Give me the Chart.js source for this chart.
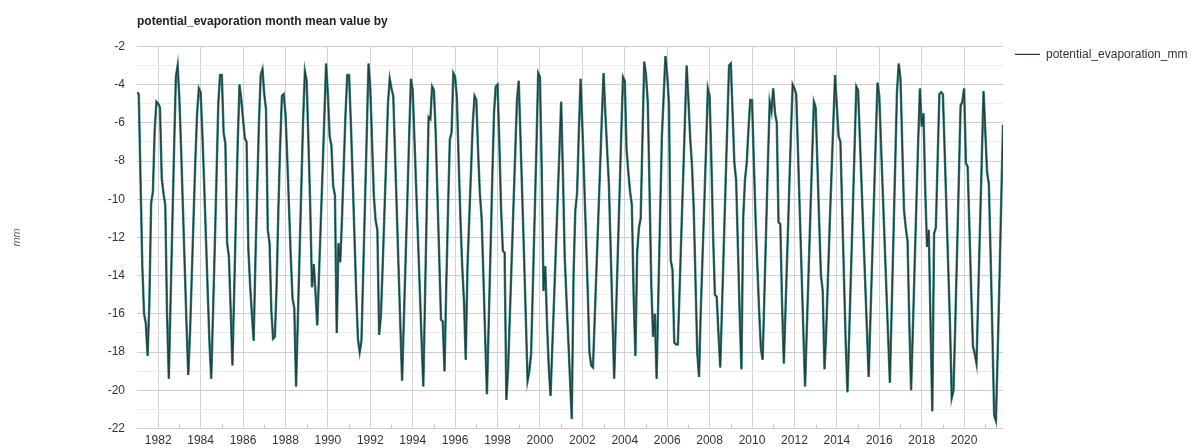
<!DOCTYPE html>
<html>
<head>
<meta charset="utf-8">
<script src="https://cdn.jsdelivr.net/npm/chart.js@4.4.1/dist/chart.umd.min.js"></script>
<style>
html,body{margin:0;padding:0;background:#ffffff;}
#wrap{width:1195px;height:448px;position:relative;}
</style>
</head>
<body>
<div id="wrap"><canvas id="chart"></canvas></div>
<script>
// ---- DATA ----
const seriesLabel = 'potential_evaporation_mm';
const chartTitle = 'potential_evaporation month mean value by';
const yAxisTitle = 'mm';
const startYear = 1981; // first value = January 1981, monthly

const pe1981to1990 = [
  -4.4, -4.5, -9.0, -13.5, -16.0, -16.5, -18.2, -15.4, -10.2, -9.6, -6.4, -4.9,
  -5.0, -5.2, -8.9, -9.7, -10.3, -16.0, -19.4, -15.3, -11.3, -7.3, -3.6, -3.0,
  -4.8, -7.5, -10.5, -13.5, -16.5, -19.2, -17.0, -14.0, -11.0, -8.0, -5.5, -4.2,
  -4.4, -6.6, -9.2, -12.0, -14.8, -17.5, -19.4, -16.0, -12.5, -8.8, -5.0, -3.5,
  -3.5, -6.5, -7.1, -12.3, -13.0, -15.8, -18.7, -14.8, -10.8, -7.0, -4.0, -4.8,
  -5.8, -6.8, -7.0, -12.6, -14.5, -16.0, -17.4, -13.2, -9.5, -6.0, -3.5, -3.2,
  -4.5, -5.3, -11.6, -12.3, -15.8, -17.3, -17.2, -14.5, -10.5, -7.2, -4.6, -4.5,
  -5.5, -7.8, -10.4, -13.0, -15.2, -15.7, -19.8, -16.3, -12.8, -9.3, -5.8, -3.3,
  -3.8, -7.0, -10.3, -14.6, -13.4, -14.9, -16.6, -13.9, -11.2, -8.5, -5.7, -2.9,
  -4.5, -6.7, -7.2, -9.3, -9.8, -17.0, -12.3, -13.3, -11.0, -8.2, -5.5, -3.5
];
const pe1991to2000 = [
  -3.5, -6.0, -8.8, -11.8, -14.8, -17.3, -18.0, -17.4, -13.8, -10.2, -6.6, -2.9,
  -4.2, -7.0, -9.8, -11.1, -11.6, -17.1, -16.1, -13.5, -10.7, -7.9, -5.0, -3.7,
  -4.2, -4.6, -7.6, -10.6, -13.6, -16.6, -19.5, -16.3, -13.1, -9.9, -6.7, -3.7,
  -4.3, -6.9, -9.5, -12.1, -14.7, -17.3, -19.8, -15.0, -10.2, -5.7, -5.8, -4.1,
  -4.3, -6.5, -9.8, -13.0, -16.3, -16.4, -19.0, -14.5, -10.5, -6.9, -6.5, -3.4,
  -3.6, -4.7, -8.0, -11.0, -13.5, -15.3, -18.4, -13.5, -11.0, -8.5, -6.0, -4.6,
  -4.8, -7.5, -9.7, -11.0, -14.0, -17.2, -20.2, -16.5, -12.8, -9.0, -5.5, -4.1,
  -4.0, -7.0, -10.5, -12.7, -12.8, -20.5, -18.8, -16.0, -13.2, -10.4, -7.6, -4.8,
  -3.8, -6.8, -9.9, -13.0, -16.2, -19.5, -19.0, -18.1, -14.5, -10.9, -7.3, -3.4,
  -3.6, -8.5, -14.8, -13.5, -16.5, -18.8, -20.3, -17.7, -15.2, -12.6, -10.0, -7.5
];
const pe2001to2010 = [
  -4.9, -8.7, -13.0, -15.2, -17.3, -19.4, -21.5, -14.0, -10.6, -9.7, -6.5, -3.7,
  -6.2, -9.0, -11.8, -14.7, -18.0, -18.7, -18.8, -16.2, -13.6, -11.0, -8.4, -5.8,
  -3.4, -5.5, -7.4, -9.2, -12.6, -16.0, -19.4, -16.2, -13.0, -9.8, -6.6, -3.6,
  -3.8, -7.4, -8.6, -9.6, -10.3, -15.0, -18.2, -12.8, -11.5, -11.0, -6.8, -2.8,
  -3.5, -4.9, -9.5, -14.5, -17.2, -16.0, -19.4, -15.0, -10.8, -6.7, -4.6, -2.5,
  -3.5, -5.0, -13.2, -13.7, -17.5, -17.6, -17.6, -14.8, -11.8, -8.9, -6.0, -3.0,
  -4.8, -6.8, -8.2, -10.5, -14.2, -18.0, -19.3, -15.8, -13.0, -10.2, -7.3, -4.2,
  -4.6, -8.0, -12.0, -15.0, -15.1, -17.0, -18.8, -15.7, -12.5, -9.3, -6.1, -3.0,
  -2.9, -5.5, -8.1, -9.0, -12.5, -16.0, -18.9, -11.0, -9.0, -8.1, -6.3, -4.8,
  -4.8, -8.0, -11.0, -13.5, -15.8, -17.8, -18.4, -15.0, -11.5, -8.0, -4.9, -5.4
];
const pe2011to2021 = [
  -4.2, -5.5, -6.0, -11.2, -11.3, -15.5, -18.6, -15.6, -12.6, -9.6, -6.6, -4.0,
  -4.2, -4.5, -7.5, -10.6, -13.7, -16.8, -19.8, -16.8, -13.8, -10.8, -7.8, -4.9,
  -5.2, -8.2, -11.2, -14.0, -14.8, -18.9, -16.8, -14.0, -11.2, -8.6, -6.0, -3.5,
  -5.2, -6.7, -7.0, -10.5, -14.0, -17.5, -20.1, -17.0, -13.8, -10.6, -7.4, -4.1,
  -4.3, -6.8, -9.3, -11.8, -14.3, -16.8, -19.3, -16.2, -13.1, -10.0, -6.9, -3.9,
  -4.6, -7.2, -9.7, -12.2, -14.7, -17.2, -19.6, -15.8, -12.0, -8.2, -4.4, -2.9,
  -3.7, -7.2, -10.6, -11.5, -12.2, -16.5, -20.0, -16.8, -13.5, -10.2, -7.0, -4.2,
  -6.2, -5.5, -9.5, -12.5, -11.6, -16.5, -21.1, -11.8, -11.5, -8.0, -4.5, -4.4,
  -4.5, -7.5, -10.5, -13.5, -16.5, -20.4, -20.0, -16.5, -12.8, -9.0, -5.1, -4.9,
  -4.2, -8.1, -8.3, -11.5, -14.8, -17.7, -18.1, -18.6, -15.0, -11.4, -7.9, -4.35,
  -6.5, -8.6, -9.2, -13.0, -17.0, -21.3, -21.6, -18.0, -14.2, -10.1, -6.1
];

const xLabelYears = [1982,1984,1986,1988,1990,1992,1994,1996,1998,2000,2002,2004,2006,2008,2010,2012,2014,2016,2018,2020];
const xMinorYears = [1983,1985,1987,1989,1991,1993,1995,1997,1999,2001,2003,2005,2007,2009,2011,2013,2015,2017,2019,2021];
const yMajorTicks = [-2,-4,-6,-8,-10,-12,-14,-16,-18,-20,-22];
const yMinorTicks = [-3,-5,-7,-9,-11,-13,-15,-17,-19,-21];

// ---- BUILD ----
const values = [].concat(pe1981to1990, pe1991to2000, pe2001to2010, pe2011to2021);
const points = values.map((v, i) => ({ x: startYear + i / 12, y: v }));
const xMax = startYear + (values.length - 1) / 12;
const yAllTicks = yMajorTicks.concat(yMinorTicks).sort((a, b) => a - b);

Chart.defaults.font.family = "'Liberation Sans', Arial, Helvetica, sans-serif";
Chart.defaults.font.size = 12;
Chart.defaults.color = '#333';

const minorTickPlugin = {
  id: 'minorTicks',
  beforeDatasetsDraw(chart) {
    const sx = chart.scales.x, a = chart.chartArea, ctx = chart.ctx;
    ctx.save();
    ctx.strokeStyle = '#c4c4c4';
    ctx.lineWidth = 1;
    xMinorYears.forEach(yr => {
      const px = Math.round(sx.getPixelForValue(yr)) + 0.5;
      ctx.beginPath();
      ctx.moveTo(px, a.bottom);
      ctx.lineTo(px, a.bottom - 4);
      ctx.stroke();
    });
    ctx.restore();
  }
};

const legendNudge = {
  id: 'legendNudge',
  afterLayout(chart) {
    const l = chart.legend;
    if (l) { l.top -= 10; l.bottom -= 10; }
  }
};

new Chart(document.getElementById('chart'), {
  type: 'line',
  data: {
    datasets: [
      { label: seriesLabel, data: points, borderColor: '#233f3e', borderWidth: 1.3,
        pointRadius: 0, tension: 0, order: 0 },
      { label: 'halo', data: points, borderColor: '#3f8c88', borderWidth: 2.5,
        pointRadius: 0, tension: 0, order: 1 }
    ]
  },
  options: {
    responsive: true,
    maintainAspectRatio: false,
    animation: false,
    layout: { padding: { left: 0, right: 0, top: 0, bottom: 0 } },
    plugins: {
      title: {
        display: true, text: chartTitle, align: 'start', fullSize: false,
        color: '#222', font: { size: 12, weight: 'bold' },
        padding: { top: 14, bottom: 18 }
      },
      legend: {
        position: 'right', align: 'start', fullSize: false, maxWidth: 192,
        labels: {
          filter: item => item.datasetIndex === 0,
          usePointStyle: true, pointStyle: 'line', pointStyleWidth: 25,
          padding: 12, color: '#333', font: { size: 12 }
        }
      },
      tooltip: { enabled: false }
    },
    scales: {
      x: {
        type: 'linear', min: startYear, max: xMax,
        afterBuildTicks: s => { s.ticks = xLabelYears.map(v => ({ value: v })); },
        afterFit: s => { s.height = 19.5; },
        ticks: { autoSkip: false, maxRotation: 0, padding: 5, color: '#333',
                 callback: v => String(v) },
        grid: { color: '#d2d2d2', drawTicks: false },
        border: { display: false }
      },
      y: {
        min: -22, max: -2,
        afterBuildTicks: s => { s.ticks = yAllTicks.map(v => ({ value: v })); },
        afterFit: s => { s.width = 137; },
        ticks: { autoSkip: false, padding: 12, color: '#333',
                 callback: v => (yMajorTicks.includes(v) ? String(v) : '') },
        grid: {
          drawTicks: false,
          color: c => (c.tick && yMajorTicks.includes(c.tick.value)) ? '#cdcdcd' : '#ececec'
        },
        border: { display: false },
        title: { display: true, text: yAxisTitle, color: '#666',
                 font: { size: 11, style: 'italic' }, padding: { top: 10, bottom: 0 } }
      }
    }
  },
  plugins: [minorTickPlugin, legendNudge]
});
</script>
</body>
</html>
